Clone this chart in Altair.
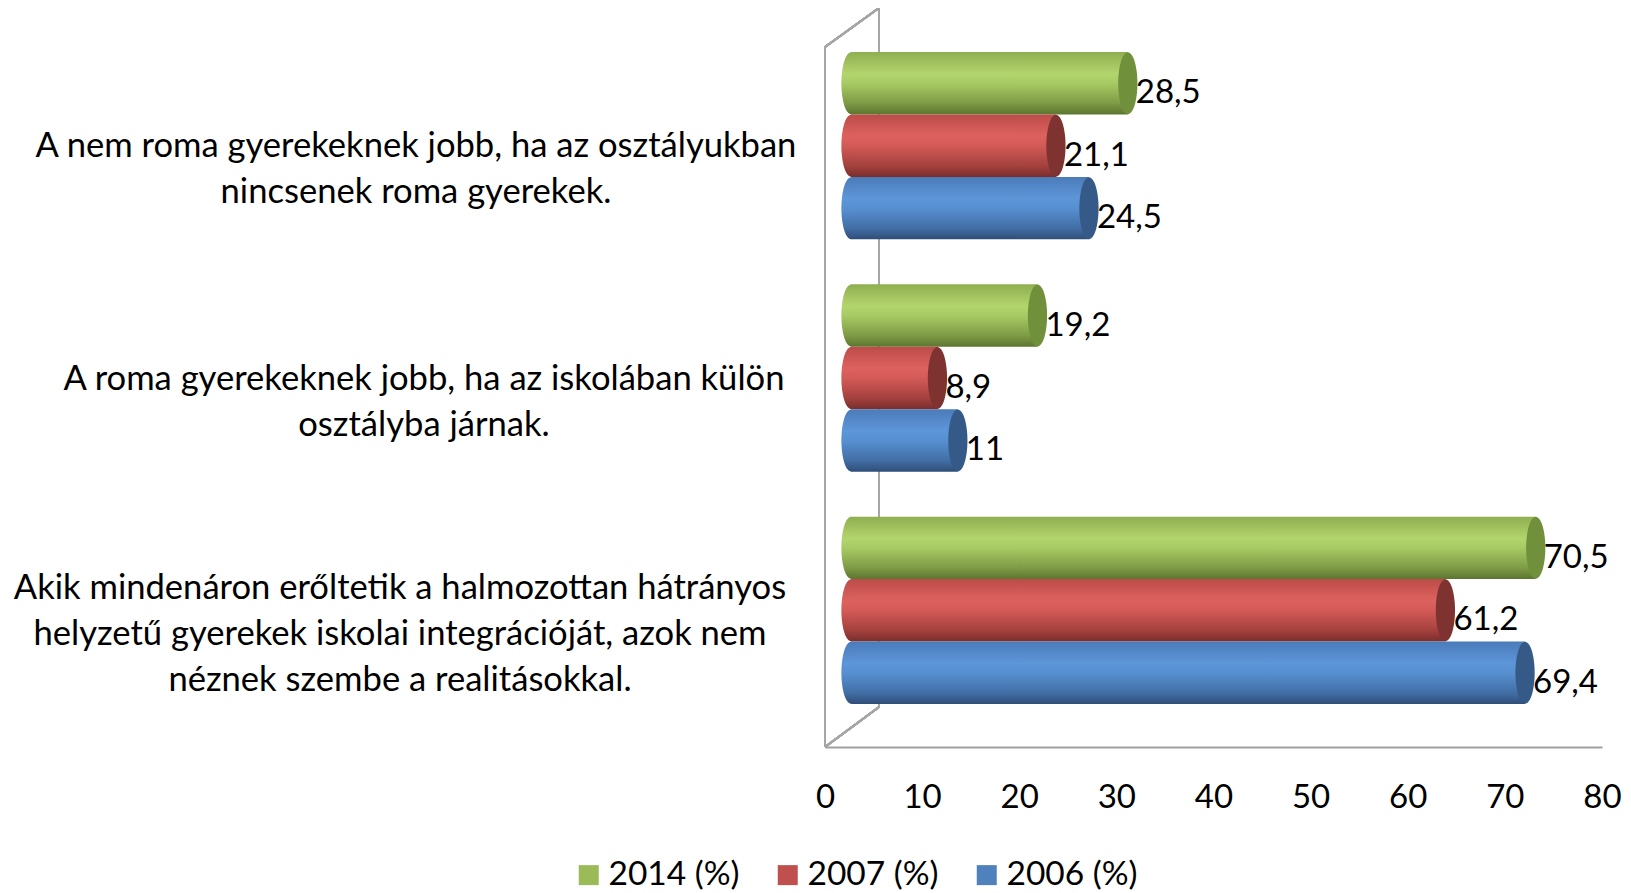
import altair as alt
import pandas as pd

categories = [
    "A nem roma gyerekeknek jobb, ha az osztályukban\nnincsenek roma gyerekek.",
    "A roma gyerekeknek jobb, ha az iskolában külön\nosztályba járnak.",
    "Akik mindenáron erőltetik a halmozottan hátrányos\nhelyzetű gyerekek iskolai integrációját, azok nem\nnéznek szembe a realitásokkal.",
]
series = ["2014 (%)", "2007 (%)", "2006 (%)"]
values_2014 = [28.5, 19.2, 70.5]
values_2007 = [21.1, 8.9, 61.2]
values_2006 = [24.5, 11, 69.4]
x_ticks = [0, 10, 20, 30, 40, 50, 60, 70, 80]

base_colors = ["#9BBB59", "#C0504D", "#4F81BD"]
cap_colors = ["#71903C", "#7E3331", "#365A88"]
body_stops = [
    ["#8FAE50", "#B3D56E", "#A8CA64", "#7E9B45", "#5C7530"],
    ["#BC4C49", "#DD625F", "#D35A57", "#A4413E", "#7A2E2C"],
    ["#4B7BB9", "#5D96D9", "#5790D1", "#426EA6", "#2F4E78"],
]
stop_offsets = [0, 0.35, 0.5, 0.82, 1]

FONT = "Lato"
FS = 33
CAT_FS = 34.6
LINE_H = 46

rows = []
for s, vals in zip(series, [values_2014, values_2007, values_2006]):
    for c, v in zip(categories, vals):
        rows.append({"cat": c, "series": s, "v": v,
                     "label": ("%g" % v).replace(".", ",")})
df = pd.DataFrame(rows)
cat_df = pd.DataFrame({
    "cat": categories,
    "maxlen": [max(len(l) for l in c.split("\n")) for c in categories],
    "nlines": [len(c.split("\n")) for c in categories],
})

xscale = alt.Scale(domain=[0, 80], nice=False, zero=True)
xaxis = alt.Axis(values=x_ticks, grid=False, ticks=False, domain=True,
                 domainColor="#A0A0A0", domainWidth=2, labelFont=FONT,
                 labelFontSize=FS, labelColor="#000000", labelBaseline="middle",
                 labelPadding=50, title=None, labelOverlap=False,
                 labelFlush=False, labelBound=False)
yscale = alt.Scale(paddingInner=0.1935, paddingOuter=0.185)
Y = alt.Y("cat:N", sort=categories, axis=None, scale=yscale)
YO = alt.YOffset("series:N", sort=series, scale=alt.Scale(paddingInner=0, paddingOuter=0))

ELL = "M -0.31 0 A 0.31 1 0 1 0 0.31 0 A 0.31 1 0 1 0 -0.31 0 Z"
XOFF = 26

base = alt.Chart(df)
layers = []

# wall / floor lines of the 3D frame
wall = "#A6A6A6"
layers.append(base.mark_rule(color=wall, strokeWidth=2).encode(
    x=alt.value(54), x2=alt.value(54), y=alt.value(-1), y2=alt.value(698)))
layers.append(base.mark_rule(color=wall, strokeWidth=2).encode(
    x=alt.value(0), x2=alt.value(54), y=alt.value(38), y2=alt.value(-1)))
layers.append(base.mark_rule(color=wall, strokeWidth=2).encode(
    x=alt.value(0), x2=alt.value(0), y=alt.value(38), y2=alt.value(738)))
layers.append(base.mark_rule(color=wall, strokeWidth=2).encode(
    x=alt.value(0), x2=alt.value(54), y=alt.value(738), y2=alt.value(698)))

for s, stops, capc in zip(series, body_stops, cap_colors):
    grad = alt.Gradient(gradient="linear", x1=0, x2=0, y1=0, y2=1,
                        stops=[alt.GradientStop(offset=o, color=c)
                               for o, c in zip(stop_offsets, stops)])
    sub = base.transform_filter(alt.datum.series == s)
    left = sub.transform_calculate(zero="0").mark_point(
        shape=ELL, size=3844, filled=True, fill=grad, opacity=1,
        strokeWidth=0, xOffset=XOFF).encode(
        x=alt.X("zero:Q", scale=xscale, axis=xaxis), y=Y, yOffset=YO)
    body = sub.mark_bar(fill=grad, xOffset=XOFF, strokeWidth=0).encode(
        x=alt.X("v:Q", scale=xscale, axis=xaxis), y=Y, yOffset=YO)
    cap = sub.mark_point(
        shape=ELL, size=3844, filled=True, fill=capc, opacity=1,
        strokeWidth=0, xOffset=XOFF).encode(
        x=alt.X("v:Q", scale=xscale, axis=xaxis), y=Y, yOffset=YO)
    layers += [left, body, cap]

labels = base.mark_text(align="left", baseline="middle", dx=8, dy=10,
                        xOffset=XOFF, font=FONT, fontSize=FS,
                        color="#000000").encode(
    x=alt.X("v:Q", scale=xscale, axis=xaxis), y=Y, yOffset=YO, text="label:N")
layers.append(labels)

legend_layer = base.mark_square(opacity=0, size=1).encode(
    x=alt.X("v:Q", scale=xscale, axis=xaxis), y=Y, yOffset=YO,
    color=alt.Color("series:N", sort=series,
                    scale=alt.Scale(domain=series, range=base_colors),
                    legend=alt.Legend(orient="none", legendX=-253, legendY=849,
                                      direction="horizontal", title=None,
                                      symbolType="square", symbolSize=400,
                                      symbolOpacity=1, symbolStrokeWidth=0,
                                      labelFont=FONT, labelFontSize=33.5,
                                      labelColor="#000000", labelOffset=3,
                                      columnPadding=31, labelLimit=400)))
layers.append(legend_layer)

# category labels: multi-line text blocks, one layer per line count so each
# block can be centred vertically on its group
for n in sorted(set(cat_df["nlines"])):
    cat_labels = alt.Chart(cat_df).transform_filter(
        alt.datum.nlines == int(n)).transform_calculate(
        lx="-33 - datum.maxlen * 8.0").mark_text(
        align="center", baseline="middle", lineBreak="\n", lineHeight=LINE_H,
        dy=24.5 - (int(n) - 1) * LINE_H / 2, font=FONT, fontSize=CAT_FS,
        color="#000000").encode(
        x=alt.X("lx:Q", scale=None, axis=None), y=Y, text="cat:N")
    layers.append(cat_labels)

chart = alt.layer(*layers).properties(
    width=777, height=738,
    padding={"left": 817, "top": 1, "right": 21, "bottom": 147},
    autosize=alt.AutoSizeParams(type="none"),
    background="white",
).configure_view(stroke=None)

chart.save("out.html", embed_options={"renderer": "svg", "actions": False})
